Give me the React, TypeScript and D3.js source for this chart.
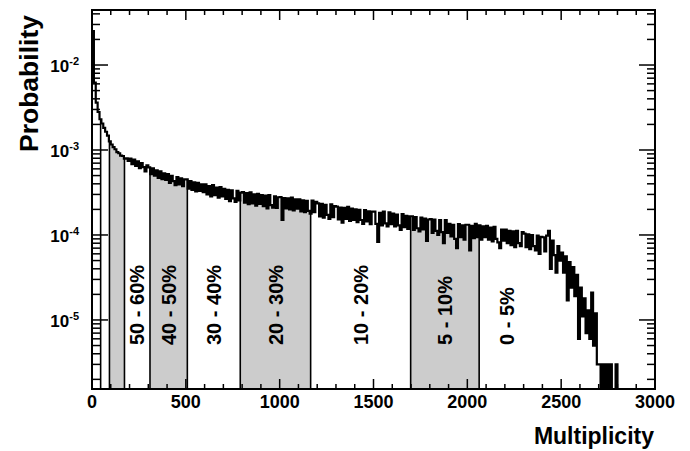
import React from "react";
import * as d3 from "d3";

// multiplicity histogram, bin width 10, probability x 1e-6 per bin
const binWidth = 10;
const binProbPpm = [
  25000, 6200, 3600, 2800, 2300, 2050, 1820, 1640, 1480, 1260,
  1160, 1080, 1020, 945, 915, 860, 850, 790, 800, 745,
  790, 680, 770, 650, 735, 610, 700, 630, 560, 660,
  625, 520, 610, 500, 575, 470, 560, 455, 530, 445,
  520, 410, 495, 430, 385, 480, 395, 465, 375, 450,
  450, 350, 430, 340, 415, 325, 410, 330, 395, 320,
  395, 300, 375, 285, 385, 295, 360, 275, 365, 285,
  350, 265, 340, 250, 335, 270, 245, 330, 255, 315,
  320, 240, 310, 230, 318, 235, 300, 222, 305, 232,
  295, 218, 290, 205, 295, 225, 210, 285, 208, 278,
  280, 150, 272, 205, 270, 200, 276, 195, 262, 204,
  262, 190, 256, 185, 252, 192, 178, 254, 186, 246,
  235, 165, 232, 160, 226, 172, 155, 230, 162, 218,
  215, 152, 210, 140, 208, 155, 214, 146, 204, 150,
  200, 142, 198, 150, 135, 196, 144, 190, 134, 188,
  188, 135, 83, 182, 130, 188, 137, 126, 185, 134,
  178, 126, 174, 130, 115, 176, 124, 168, 118, 166,
  166, 115, 162, 120, 110, 160, 116, 156, 85, 152,
  154, 106, 152, 112, 100, 150, 108, 80, 150, 106,
  135, 96, 132, 90, 70, 134, 94, 130, 88, 132,
  132, 66, 128, 92, 135, 94, 130, 88, 126, 94,
  128, 88, 122, 84, 125, 90, 82, 70, 116, 86,
  116, 80, 112, 76, 110, 72, 112, 80, 74, 108,
  104, 72, 102, 68, 100, 74, 66, 98, 60, 95,
  94, 64, 98, 112, 40, 86, 58, 36, 74, 50,
  62, 36, 56, 17, 48, 24, 42, 19, 34, 6,
  24, 11, 18, 7, 13, 6, 21, 5, 12, 3,
  3, 0, 3, 0, 3, 0, 3, 0, 0, 3,
];

// centrality class boundaries (multiplicity) and labels
const classEdges = [46, 93, 173, 309, 508, 790, 1165, 1698, 2063];
const classLabels = ["50 - 60%", "40 - 50%", "30 - 40%", "20 - 30%", "10 - 20%", "5 - 10%", "0 - 5%"];
const labelAt = [241, 408, 649, 977, 1431, 1880, 2209];

const xTicks = [0, 500, 1000, 1500, 2000, 2500, 3000];
const yDecades = [-5, -4, -3, -2];

const W = 690;
const H = 451;
const plot = { left: 92, right: 655, top: 10, bottom: 389 };
const FONT = "'Liberation Sans', Arial, Helvetica, sans-serif";

export default function App() {
  const x = d3.scaleLinear().domain([0, 3000]).range([plot.left, plot.right]);
  const y = d3.scaleLog().domain([1.54e-6, 0.0444]).range([plot.bottom, plot.top]);

  const bins = binProbPpm.map((v, i) => ({ lo: i * binWidth, p: v * 1e-6 }));
  const last = bins[bins.length - 1];
  const pts = [...bins, { lo: last.lo + binWidth, p: 0 }];
  const yv = (p: number) => (p > 0 ? y(p) : plot.bottom + 20);

  const line = d3
    .line<{ lo: number; p: number }>()
    .x((d) => x(d.lo))
    .y((d) => yv(d.p))
    .curve(d3.curveStepAfter);
  const area = d3
    .area<{ lo: number; p: number }>()
    .x((d) => x(d.lo))
    .y0(plot.bottom)
    .y1((d) => yv(d.p))
    .curve(d3.curveStepAfter);

  const valueAt = (m: number) => bins[Math.min(bins.length - 1, Math.floor(m / binWidth))].p;

  // shaded bands: every other interval between edges
  const shaded = d3.range(1, classEdges.length - 1, 2).map((i) => [classEdges[i], classEdges[i + 1]]);

  const xMinor = d3.range(0, 3001, 100).filter((v) => v % 500 !== 0);
  const yMinor: number[] = [];
  for (let e = -6; e <= -2; e++) {
    for (let k = 2; k <= 9; k++) {
      const v = k * Math.pow(10, e);
      if (v > y.domain()[0] && v < y.domain()[1]) yMinor.push(v);
    }
  }

  return (
    <svg width={W} height={H} style={{ position: "absolute", left: 0, top: 0, background: "#fff" }} fontFamily={FONT}>
      <defs>
        <clipPath id="plotClip">
          <rect x={plot.left} y={plot.top} width={plot.right - plot.left} height={plot.bottom - plot.top} />
        </clipPath>
        {shaded.map(([a, b], i) => (
          <clipPath id={`band${i}`} key={i}>
            <rect x={x(a)} y={plot.top} width={x(b) - x(a)} height={plot.bottom - plot.top} />
          </clipPath>
        ))}
      </defs>

      {/* gray centrality bands */}
      {shaded.map((_, i) => (
        <path key={i} d={area(pts) || ""} fill="#cccccc" clipPath={`url(#band${i})`} />
      ))}

      {/* class boundaries */}
      {classEdges.map((m) => (
        <line key={m} x1={x(m)} x2={x(m)} y1={plot.bottom} y2={y(valueAt(m))} stroke="#000" strokeWidth={1.6} />
      ))}

      {/* histogram */}
      <g clipPath="url(#plotClip)">
        <path d={line(pts) || ""} fill="none" stroke="#000" strokeWidth={2.2} strokeLinejoin="miter" />
      </g>

      {/* class labels */}
      {classLabels.map((t, i) => (
        <text
          key={t}
          transform={`translate(${x(labelAt[i])},345) rotate(-90)`}
          dy="0.36em"
          fontSize={20}
          fontWeight="bold"
          textAnchor="start"
        >
          {t}
        </text>
      ))}

      {/* frame */}
      <rect x={plot.left} y={plot.top} width={plot.right - plot.left} height={plot.bottom - plot.top} fill="none" stroke="#000" strokeWidth={2} />

      {/* x ticks */}
      {xTicks.map((v) => (
        <g key={v}>
          <line x1={x(v)} x2={x(v)} y1={plot.bottom} y2={plot.bottom - 10} stroke="#000" strokeWidth={1.5} />
          <line x1={x(v)} x2={x(v)} y1={plot.top} y2={plot.top + 10} stroke="#000" strokeWidth={1.5} />
          <text x={x(v)} y={408} textAnchor="middle" fontSize={18} fontWeight="bold">
            {v}
          </text>
        </g>
      ))}
      {xMinor.map((v) => (
        <g key={v}>
          <line x1={x(v)} x2={x(v)} y1={plot.bottom} y2={plot.bottom - 5} stroke="#000" strokeWidth={1.5} />
          <line x1={x(v)} x2={x(v)} y1={plot.top} y2={plot.top + 5} stroke="#000" strokeWidth={1.5} />
        </g>
      ))}

      {/* y ticks */}
      {yDecades.map((e) => {
        const yy = y(Math.pow(10, e));
        return (
          <g key={e}>
            <line x1={plot.left} x2={plot.left + 16} y1={yy} y2={yy} stroke="#000" strokeWidth={1.5} />
            <line x1={plot.right} x2={plot.right - 16} y1={yy} y2={yy} stroke="#000" strokeWidth={1.5} />
            <text x={79} y={yy + 7} textAnchor="end" fontWeight="bold" fontSize={17}>
              <tspan>10</tspan>
              <tspan dy={-7} fontSize={11}>
                {`-${-e}`}
              </tspan>
            </text>
          </g>
        );
      })}
      {yMinor.map((v) => (
        <g key={v}>
          <line x1={plot.left} x2={plot.left + 8} y1={y(v)} y2={y(v)} stroke="#000" strokeWidth={1.5} />
          <line x1={plot.right} x2={plot.right - 8} y1={y(v)} y2={y(v)} stroke="#000" strokeWidth={1.5} />
        </g>
      ))}

      {/* axis titles */}
      <text transform="translate(38,152) rotate(-90)" fontSize={26.5} fontWeight="bold" textAnchor="start">
        Probability
      </text>
      <text x={654} y={444} fontSize={23} fontWeight="bold" textAnchor="end">
        Multiplicity
      </text>
    </svg>
  );
}
